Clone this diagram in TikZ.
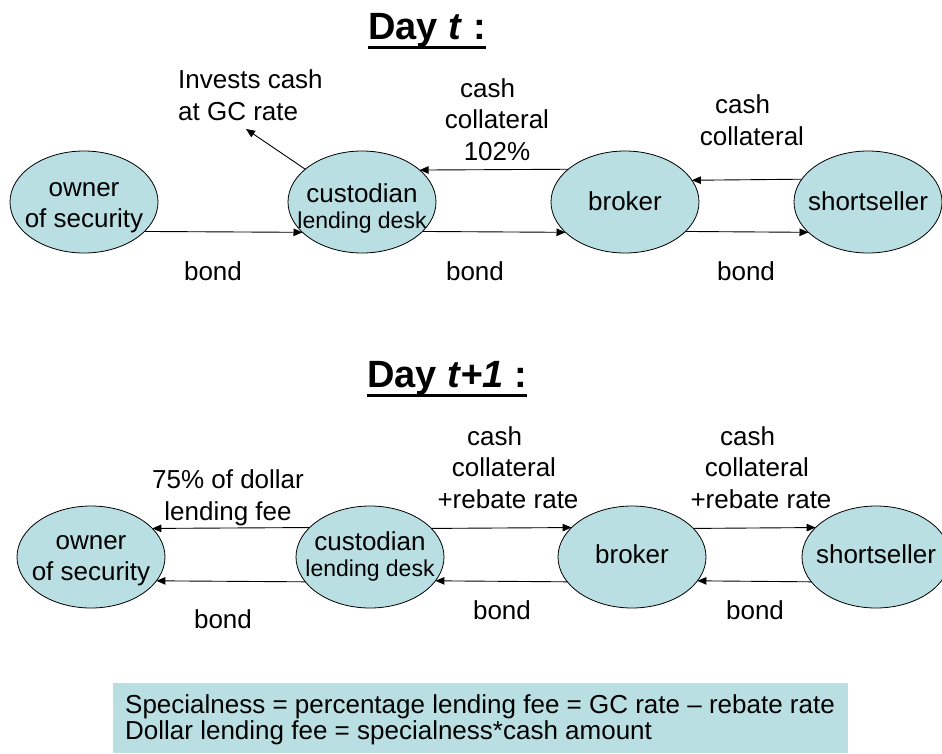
\documentclass[tikz,border=0pt]{standalone}
\usepackage{fontspec}
\setmainfont{Liberation Sans}
\usetikzlibrary{shapes.geometric,arrows.meta}
\definecolor{cellfill}{RGB}{185,223,226}
\begin{document}
\begin{tikzpicture}[x=1pt,y=-1pt,
  ent/.style={ellipse,draw=black,line width=0.8pt,fill=cellfill,minimum width=148pt,minimum height=102pt,inner sep=0pt,outer sep=0pt},
  etx/.style={inner sep=0pt,align=center,anchor=base,font=\fontsize{26}{31}\selectfont},
  lbl/.style={inner sep=0pt,align=center,font=\fontsize{26}{31.5}\selectfont,anchor=base},
  arr/.style={line width=0.9pt,-{Triangle[length=9pt,width=7.5pt]}},
  ttl/.style={inner sep=0pt,anchor=base,font=\fontsize{38}{44}\selectfont\bfseries},
  uline/.style={line width=3pt}]
\useasboundingbox[fill=white] (0,0) rectangle (942,753);

% ---------- Day t ----------
\node[ttl] (t1) at (427,39) {Day \textit{t} :};
\draw[uline] ([yshift=-8pt]t1.base west) -- ([yshift=-8pt]t1.base east);

\node[ent] (own1) at (84,202) {};
\node[ent] (cus1) at (362,202) {};
\node[ent] (bro1) at (625,202) {};
\node[ent] (sho1) at (868,202) {};
\node[etx] (own1t) at ([yshift=-25pt]own1.center) {owner\\of security};
\node[etx] (cus1t) at ([yshift=-26pt]cus1.center) {custodian\\[-5pt]{\fontsize{23}{26}\selectfont lending desk}};
\node[etx] (bro1t) at ([yshift=-8pt]bro1.center) {broker};
\node[etx] (sho1t) at ([yshift=-8pt]sho1.center) {shortseller};

\draw[arr] (own1.-26.6) -- (cus1.-153.4);
\draw[arr] (cus1.-26.6) -- (bro1.-153.4);
\draw[arr] (bro1.-26.6) -- (sho1.-153.4);
\draw[arr] (bro1.150.95) -- (cus1.29.05);
\draw[arr] (sho1.161.8) -- (bro1.18.2);
\coordinate (gc) at (246,129);
\draw[arr] (cus1.150.7) -- (gc);

\node[lbl,align=left,anchor=base west] (inv) at (178,120) {Invests cash\\at GC rate};
\node[lbl] (c1) at (497,160) {cash\hspace*{19pt}\\collateral\\102\%};
\node[lbl] (c2) at (752,145) {cash\hspace*{19pt}\\collateral};
\node[lbl] (b1) at (213,280) {bond};
\node[lbl] (b2) at (475,280) {bond};
\node[lbl] (b3) at (746,280) {bond};

% ---------- Day t+1 ----------
\node[ttl] (t2) at (447,387) {Day \textit{t+1} :};
\draw[uline] ([yshift=-8pt]t2.base west) -- ([yshift=-8pt]t2.base east);

\node[ent] (own2) at (91,557) {};
\node[ent] (cus2) at (370,557) {};
\node[ent] (bro2) at (632,557) {};
\node[ent] (sho2) at (876,557) {};
\node[etx] (own2t) at ([yshift=-23pt]own2.center) {owner\\of security};
\node[etx] (cus2t) at ([yshift=-19pt]cus2.center) {custodian\\[-5pt]{\fontsize{23}{26}\selectfont lending desk}};
\node[etx] (bro2t) at ([yshift=-6pt]bro2.center) {broker};
\node[etx] (sho2t) at ([yshift=-6pt]sho2.center) {shortseller};

\draw[arr] (cus2.154.5) -- (own2.25.5);
\draw[arr] (cus2.-159.8) -- (own2.-20.2);
\draw[arr] (cus2.25.5) -- (bro2.154.5);
\draw[arr] (bro2.25.5) -- (sho2.154.5);
\draw[arr] (bro2.-159.8) -- (cus2.-20.2);
\draw[arr] (sho2.-159.8) -- (bro2.-20.2);

\node[lbl] (fee) at (228,520) {75\% of dollar\\lending fee};
\node[lbl] (c3) at (504,508) {cash\hspace*{19pt}\\collateral\\\hspace*{8pt}+rebate rate};
\node[lbl] (c4) at (757,508) {cash\hspace*{19pt}\\collateral\\\hspace*{8pt}+rebate rate};
\node[lbl] (b4) at (223,628) {bond};
\node[lbl] (b5) at (502,619) {bond};
\node[lbl] (b6) at (755,619) {bond};

% ---------- note ----------
\fill[cellfill] (113,683) rectangle (848,753);
\node[inner sep=0pt,anchor=base west,align=left,font=\fontsize{26}{26.5}\selectfont] (note) at (125,739.5)
  {Specialness = percentage lending fee = GC rate -- rebate rate\\Dollar lending fee = specialness*cash amount};
\end{tikzpicture}
\end{document}
